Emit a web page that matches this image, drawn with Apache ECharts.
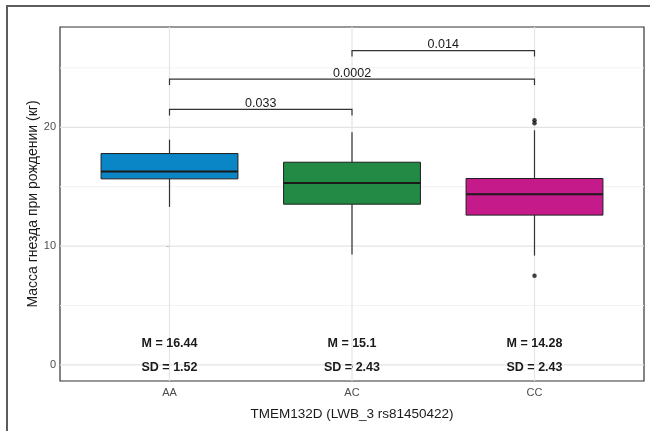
<!DOCTYPE html>
<html>
<head>
<meta charset="utf-8">
<script src="https://cdn.jsdelivr.net/npm/echarts@6/dist/echarts.min.js"></script>
<style>
  html, body { margin: 0; padding: 0; background: #ffffff; overflow: hidden; }
  #chart { width: 650px; height: 431px; }
</style>
</head>
<body>
<div id="chart"></div>
<script>
// Genotype groups
const categories = ['AA', 'AC', 'CC'];

// Box summaries per genotype (kg)
const whiskerLow  = [13.3, 9.3, 9.2];
const q1          = [15.66, 13.53, 12.61];
const medians     = [16.27, 15.32, 14.37];
const q3          = [17.79, 17.06, 15.69];
const whiskerHigh = [18.96, 19.58, 19.75];

// Outlying observations: [group index, value]
const outliers = [[2, 20.35], [2, 20.6], [2, 7.5]];

// Group statistics printed under each box
const meanLabels = ['M = 16.44', 'M = 15.1', 'M = 14.28'];
const sdLabels   = ['SD = 1.52', 'SD = 2.43', 'SD = 2.43'];

// Pairwise comparisons: from group, to group, bracket height, p-value
const bracketFrom = [0, 0, 1];
const bracketTo   = [1, 2, 2];
const bracketY    = [21.5, 24.05, 26.45];
const bracketP    = ['0.033', '0.0002', '0.014'];

// Axis ticks
const yTicks = [0, 10, 20];
const yMinorTicks = [5, 15, 25];

const boxColors = ['#0a85c6', '#238a45', '#c51b8a'];
const FONT = '"Liberation Sans", Arial, Helvetica, sans-serif';
const X_MIN = -0.6, X_MAX = 2.6;
const Y_MIN = -1.35, Y_MAX = 28.44;
const MEAN_ROW = 1.78, SD_ROW = -0.25;

const chart = echarts.init(document.getElementById('chart'), null, { renderer: 'canvas' });

const idx = categories.map((c, i) => i);

function hLine(color, width) {
  return function (params, api) {
    const v = api.value(1);
    const a = api.coord([X_MIN, v]);
    const b = api.coord([X_MAX, v]);
    return {
      type: 'line',
      shape: { x1: a[0], y1: a[1], x2: b[0], y2: b[1] },
      style: { stroke: color, lineWidth: width }
    };
  };
}

function textRow(labels) {
  return function (params, api) {
    const p = api.coord([api.value(0), api.value(1)]);
    return {
      type: 'text',
      x: p[0], y: p[1],
      style: {
        text: labels[params.dataIndex],
        fontFamily: FONT, fontSize: 12.5, fontWeight: 'bold', fill: '#1a1a1a',
        align: 'center', verticalAlign: 'middle'
      }
    };
  };
}

const option = {
  animation: false,
  backgroundColor: '#ffffff',
  textStyle: { fontFamily: FONT },
  graphic: [{
    type: 'rect',
    shape: { x: 7, y: 6, width: 720, height: 500 },
    style: { fill: 'none', stroke: '#5c5c5c', lineWidth: 2 },
    silent: true,
    z: 100
  }],
  grid: {
    left: 60, right: 6, top: 27, bottom: 50,
    outerBoundsMode: 'none',
    show: true, borderColor: '#333333', borderWidth: 1.2,
    backgroundColor: '#ffffff'
  },
  xAxis: {
    type: 'value',
    min: X_MIN, max: X_MAX,
    name: 'TMEM132D (LWB_3 rs81450422)',
    nameLocation: 'middle',
    nameGap: 26,
    nameMoveOverlap: false,
    nameTextStyle: { fontFamily: FONT, fontSize: 13.5, color: '#1a1a1a' },
    axisLine: { show: false },
    axisTick: { show: true, length: 3, customValues: idx, lineStyle: { color: '#333333' } },
    axisLabel: {
      customValues: idx,
      formatter: v => categories[Math.round(v)] || '',
      color: '#4d4d4d', fontSize: 11, margin: 6, fontFamily: FONT
    },
    splitLine: { show: false }
  },
  yAxis: {
    type: 'value',
    min: Y_MIN, max: Y_MAX,
    name: 'Масса гнезда при рождении (кг)',
    nameLocation: 'middle',
    nameGap: 20,
    nameRotate: 90,
    nameMoveOverlap: false,
    nameTextStyle: { fontFamily: FONT, fontSize: 14, color: '#1a1a1a' },
    axisLine: { show: false },
    axisTick: { show: true, length: 3, customValues: yTicks, lineStyle: { color: '#333333' } },
    axisLabel: {
      customValues: yTicks,
      color: '#4d4d4d', fontSize: 11, margin: 4, fontFamily: FONT
    },
    splitLine: { show: false }
  },
  series: [
    {
      // minor horizontal grid lines
      type: 'custom', silent: true, z: 1,
      data: yMinorTicks.map(v => [0, v]),
      renderItem: hLine('#f3f3f3', 1)
    },
    {
      // major horizontal grid lines
      type: 'custom', silent: true, z: 1,
      data: yTicks.map(v => [0, v]),
      renderItem: hLine('#e4e4e4', 1.2)
    },
    {
      // vertical grid lines at each genotype
      type: 'custom', silent: true, z: 1,
      data: idx.map(i => [i, 0]),
      renderItem(params, api) {
        const x = api.value(0);
        const a = api.coord([x, Y_MIN]);
        const b = api.coord([x, Y_MAX]);
        return {
          type: 'line',
          shape: { x1: a[0], y1: a[1], x2: b[0], y2: b[1] },
          style: { stroke: '#e4e4e4', lineWidth: 1.2 }
        };
      }
    },
    {
      // boxes, whiskers and medians
      type: 'custom', z: 3,
      data: idx.map(i => [i, whiskerLow[i], q1[i], medians[i], q3[i], whiskerHigh[i]]),
      encode: { x: 0, y: [1, 2, 3, 4, 5] },
      renderItem(params, api) {
        const x = api.value(0);
        const halfW = api.size([0.75, 0])[0] / 2;
        const lo = api.coord([x, api.value(1)]);
        const b1 = api.coord([x, api.value(2)]);
        const md = api.coord([x, api.value(3)]);
        const b3 = api.coord([x, api.value(4)]);
        const hi = api.coord([x, api.value(5)]);
        const whisker = { stroke: '#333333', lineWidth: 1.2 };
        return {
          type: 'group',
          children: [
            { type: 'line', shape: { x1: lo[0], y1: lo[1], x2: b1[0], y2: b1[1] }, style: whisker },
            { type: 'line', shape: { x1: b3[0], y1: b3[1], x2: hi[0], y2: hi[1] }, style: whisker },
            {
              type: 'rect',
              shape: { x: b1[0] - halfW, y: b3[1], width: halfW * 2, height: b1[1] - b3[1] },
              style: { fill: boxColors[params.dataIndex], stroke: '#1f1f1f', lineWidth: 1 }
            },
            {
              type: 'line',
              shape: { x1: md[0] - halfW, y1: md[1], x2: md[0] + halfW, y2: md[1] },
              style: { stroke: '#1a1a1a', lineWidth: 2 }
            }
          ]
        };
      }
    },
    {
      type: 'scatter', z: 4,
      symbol: 'circle', symbolSize: 4.5,
      itemStyle: { color: '#111111' },
      data: outliers
    },
    {
      // significance brackets
      type: 'custom', z: 4,
      data: bracketFrom.map((f, i) => [f, bracketTo[i], bracketY[i]]),
      encode: { x: [0, 1], y: 2 },
      renderItem(params, api) {
        const y = api.value(2);
        const p1 = api.coord([api.value(0), y]);
        const p2 = api.coord([api.value(1), y]);
        const drop = api.size([0, 0.5])[1];
        return {
          type: 'group',
          children: [
            {
              type: 'polyline',
              shape: { points: [[p1[0], p1[1] + drop], [p1[0], p1[1]], [p2[0], p2[1]], [p2[0], p2[1] + drop]] },
              style: { stroke: '#333333', lineWidth: 1.2, fill: 'none' }
            },
            {
              type: 'text',
              x: (p1[0] + p2[0]) / 2,
              y: p1[1] + 0.5,
              style: {
                text: bracketP[params.dataIndex],
                fontFamily: FONT, fontSize: 12.5, fill: '#1a1a1a',
                align: 'center', verticalAlign: 'bottom'
              }
            }
          ]
        };
      }
    },
    {
      type: 'custom', z: 5, silent: true,
      data: idx.map(i => [i, MEAN_ROW]),
      renderItem: textRow(meanLabels)
    },
    {
      type: 'custom', z: 5, silent: true,
      data: idx.map(i => [i, SD_ROW]),
      renderItem: textRow(sdLabels)
    }
  ]
};

chart.setOption(option);
</script>
</body>
</html>
